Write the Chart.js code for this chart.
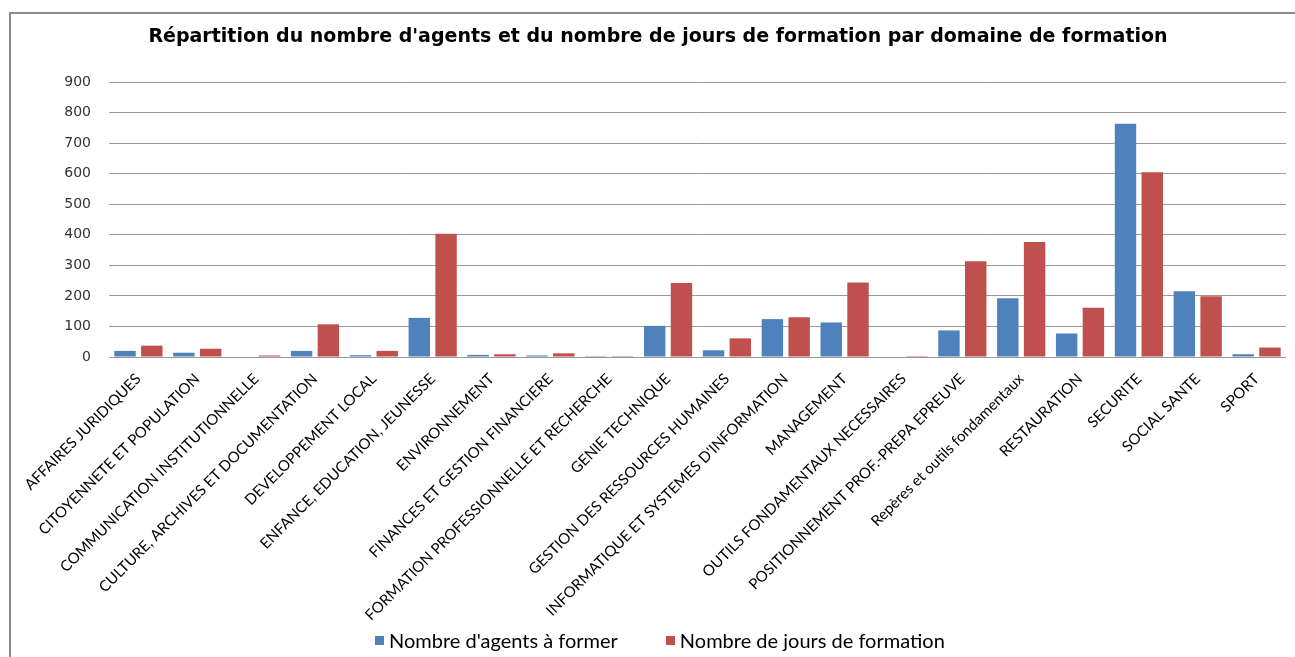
<!DOCTYPE html>
<html lang="fr">
<head>
<meta charset="utf-8">
<title>Répartition du nombre d'agents et du nombre de jours de formation</title>
<script src="https://cdn.jsdelivr.net/npm/chart.js@4.4.1/dist/chart.umd.min.js"></script>
<style>
    html, body { margin: 0; padding: 0; background: #fff; overflow: hidden; }
    #frame {
        position: absolute; left: 9px; top: 12px; width: 1320px; height: 700px;
        border-left: 2px solid #8c8c8c; border-top: 2px solid #8c8c8c;
    }
    #wrap { position: absolute; left: 0; top: 0; width: 1295px; height: 657px; }
    #legend {
        position: absolute; left: 375px; top: 628px; height: 24px;
        display: flex; align-items: center; gap: 48px;
        font-family: Lato, sans-serif; font-size: 20px; color: #000; white-space: nowrap;
    }
    #legend .item { display: flex; align-items: center; }
    #legend .box { width: 9px; height: 9px; margin-right: 5px; }
</style>
</head>
<body>
<div id="frame"></div>
<div id="wrap"><canvas id="chart" width="1295" height="657"></canvas></div>
<div id="legend"></div>
<script>
// Domains (x axis)
const categories = [
    'AFFAIRES JURIDIQUES',
    'CITOYENNETE ET POPULATION',
    'COMMUNICATION INSTITUTIONNELLE',
    'CULTURE, ARCHIVES ET DOCUMENTATION',
    'DEVELOPPEMENT LOCAL',
    'ENFANCE, EDUCATION, JEUNESSE',
    'ENVIRONNEMENT',
    'FINANCES ET GESTION FINANCIERE',
    'FORMATION PROFESSIONNELLE ET RECHERCHE',
    'GENIE TECHNIQUE',
    'GESTION DES RESSOURCES HUMAINES',
    "INFORMATIQUE ET SYSTEMES D'INFORMATION",
    'MANAGEMENT',
    'OUTILS FONDAMENTAUX NECESSAIRES',
    'POSITIONNEMENT PROF.-PREPA EPREUVE',
    'Repères et outils fondamentaux',
    'RESTAURATION',
    'SECURITE',
    'SOCIAL SANTE',
    'SPORT'
];

// Series values
const agents = [20, 14, 0, 20, 6, 128, 7, 5, 3, 102, 22, 124, 113, 0, 87, 192, 77, 763, 215, 9];
const jours  = [37, 27, 5, 107, 20, 403, 9, 12, 3, 242, 61, 130, 244, 3, 313, 376, 161, 605, 199, 31];

// Y axis
const yMin = 0;
const yMax = 900;
const yStep = 100;

const seriesNames = ["Nombre d'agents à former", 'Nombre de jours de formation'];
const seriesColors = ['#4F81BD', '#C0504D'];

const chartTitle = "Répartition du nombre d'agents et du nombre de jours de formation par domaine de formation";

// Legend (Excel puts a wide gap between the two entries)
function buildLegend() {
    const legend = document.getElementById('legend');
    legend.innerHTML = seriesNames.map((name, i) =>
        `<span class="item"><span class="box" style="background:${seriesColors[i]}"></span>${name}</span>`
    ).join('');
}

const ctx = document.getElementById('chart');

new Chart(ctx, {
    type: 'bar',
    data: {
        labels: categories,
        datasets: [
            {
                label: seriesNames[0],
                data: agents,
                backgroundColor: seriesColors[0],
                categoryPercentage: 0.91,
                barPercentage: 0.8
            },
            {
                label: seriesNames[1],
                data: jours,
                backgroundColor: seriesColors[1],
                categoryPercentage: 0.91,
                barPercentage: 0.8
            }
        ]
    },
    options: {
        responsive: false,
        animation: false,
        layout: {
            padding: { left: 30, right: 9, top: 0, bottom: 0 }
        },
        plugins: {
            title: {
                display: true,
                text: chartTitle,
                color: '#000',
                font: { family: 'DejaVu Sans', size: 19, weight: 'bold' },
                padding: { top: 26, bottom: 33.2 }
            },
            legend: { display: false },
            tooltip: { enabled: false }
        },
        scales: {
            x: {
                grid: { display: false, drawTicks: false },
                border: { display: false },
                ticks: {
                    autoSkip: false,
                    minRotation: 45,
                    maxRotation: 45,
                    padding: 13,
                    color: '#000',
                    font: { family: 'Lato', size: 15 }
                },
                afterFit: function (scale) {
                    scale.height = 300;
                }
            },
            y: {
                min: yMin,
                max: yMax,
                grid: { color: '#999', lineWidth: 1, drawTicks: false },
                border: { display: false },
                ticks: {
                    stepSize: yStep,
                    padding: 18,
                    color: '#333',
                    font: { family: 'DejaVu Sans', size: 14 }
                },
                afterFit: function (scale) {
                    scale.width = 79;
                }
            }
        }
    }
});

buildLegend();
</script>
</body>
</html>
